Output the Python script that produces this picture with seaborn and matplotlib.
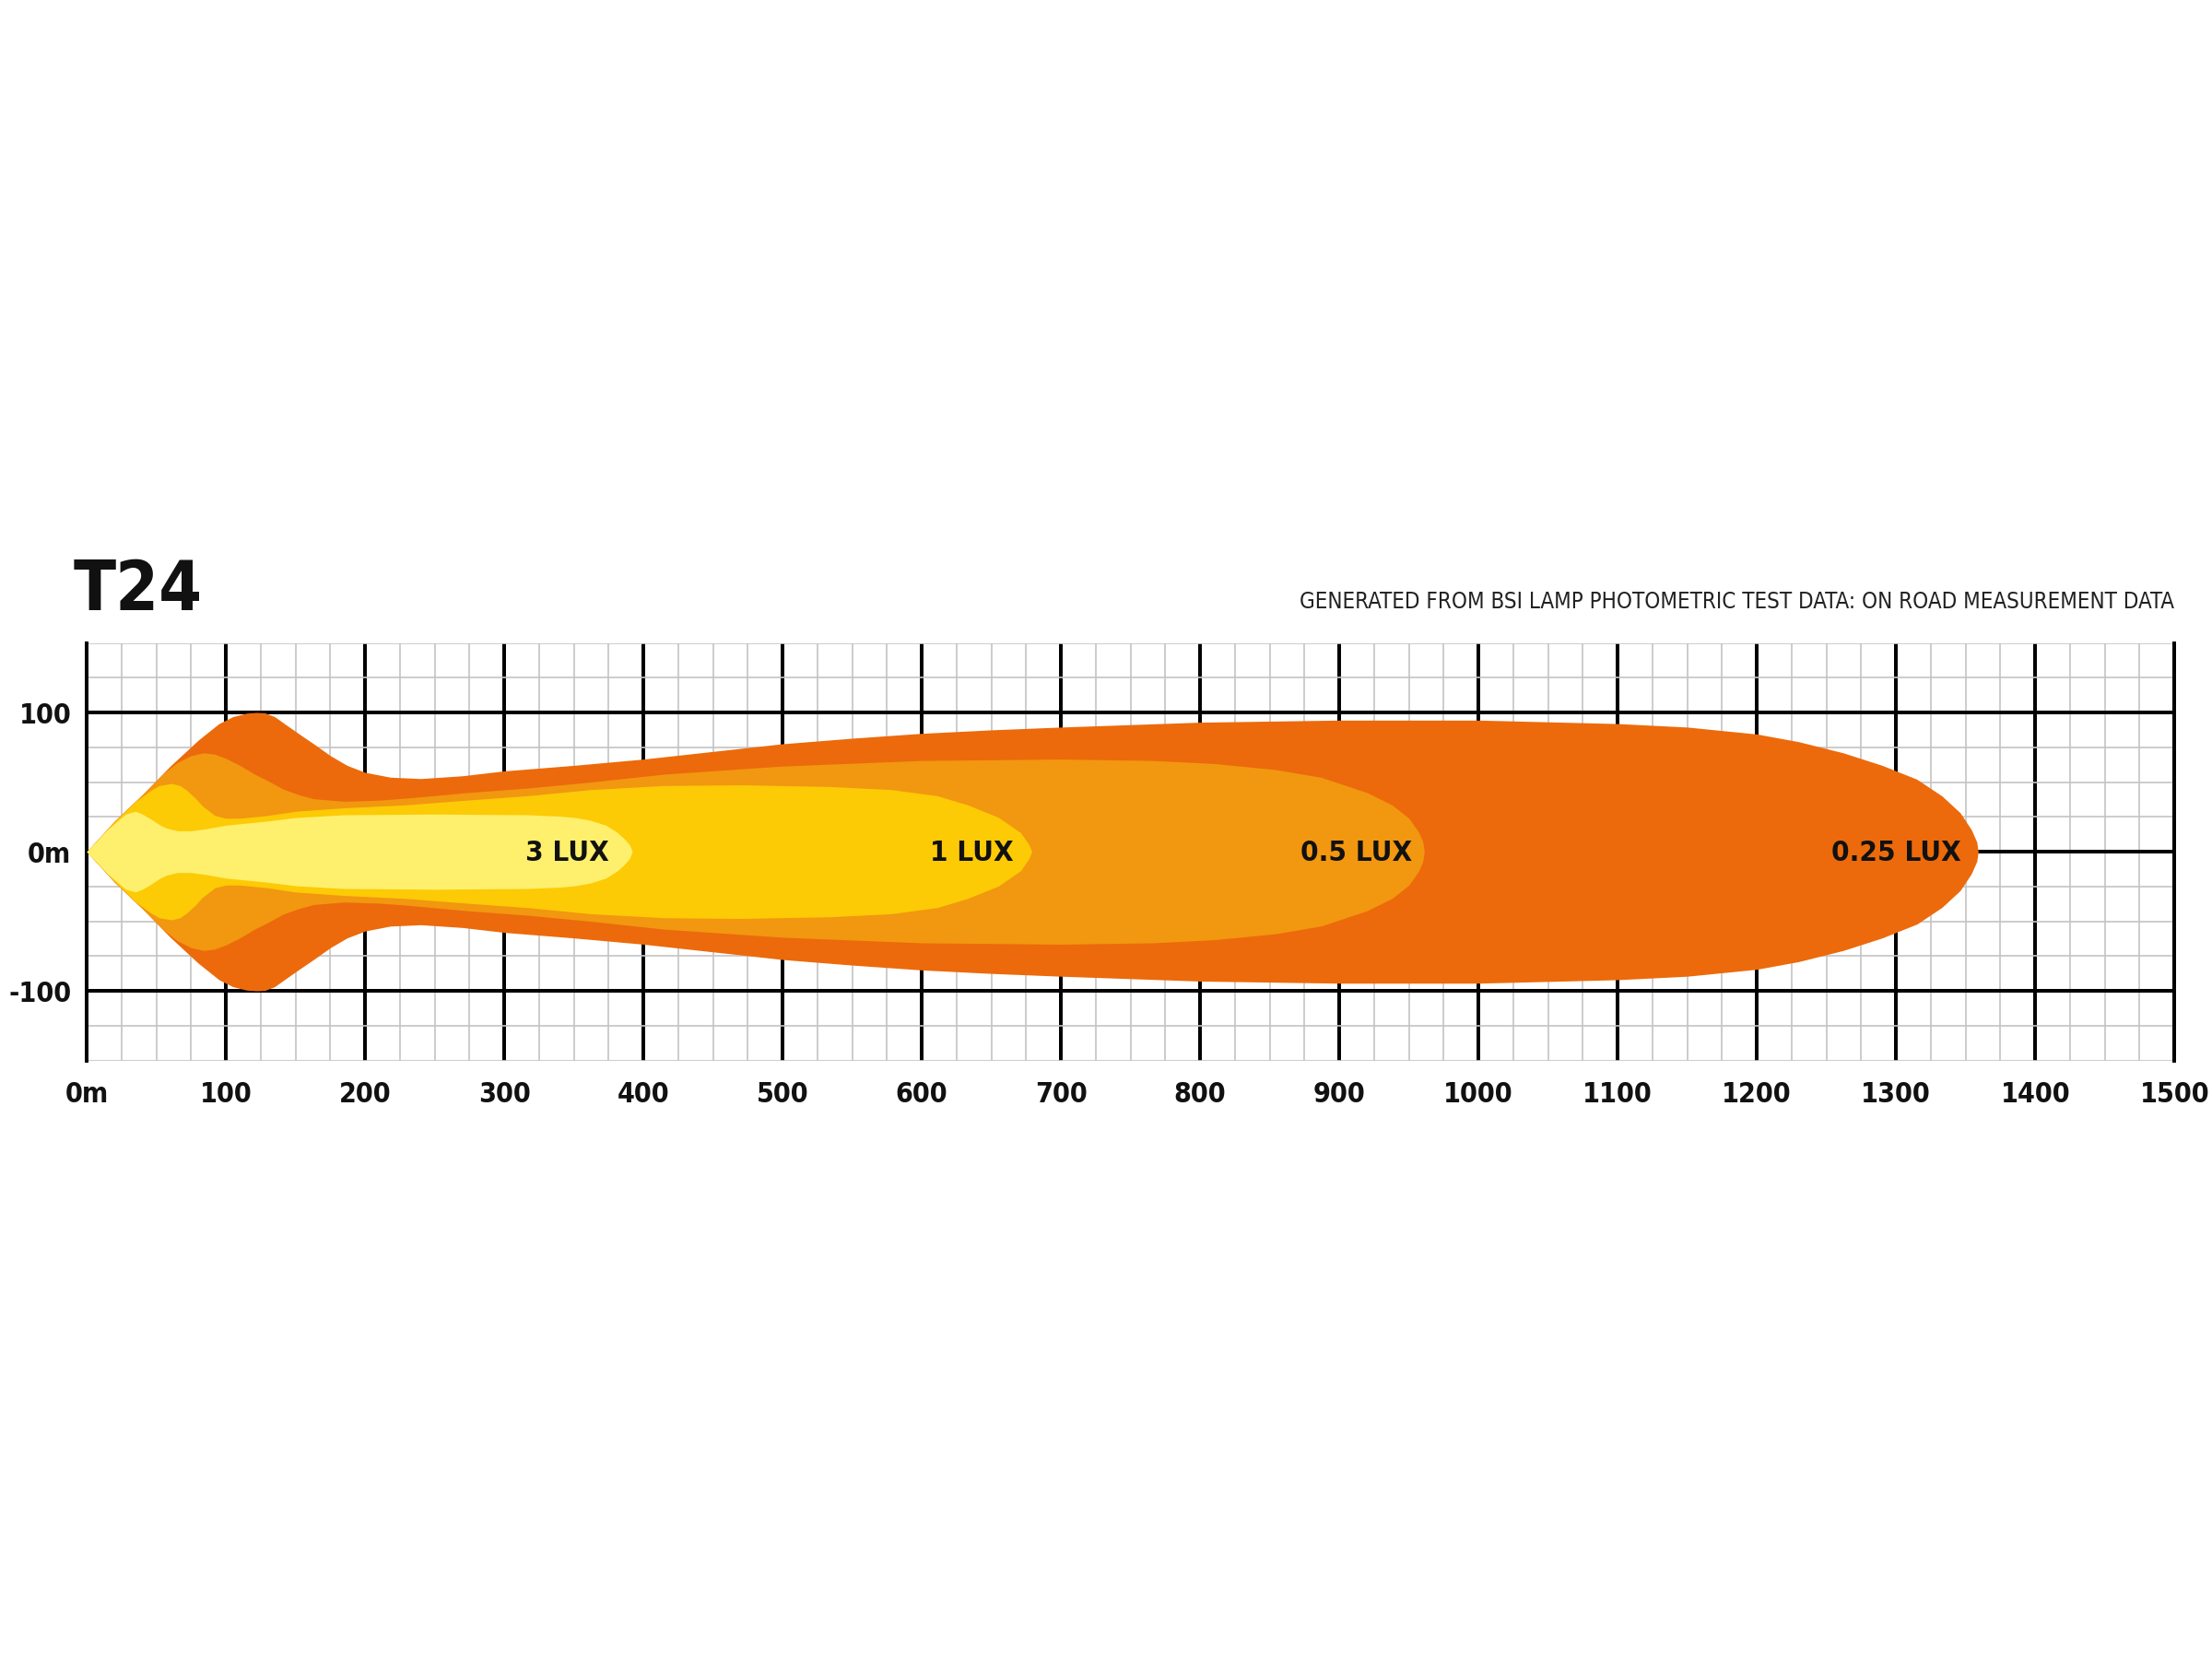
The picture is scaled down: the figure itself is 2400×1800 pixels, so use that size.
import matplotlib
matplotlib.use("Agg")
import matplotlib.pyplot as plt
from matplotlib.ticker import MultipleLocator, FixedLocator
import seaborn as sns
import numpy as np

# beam pattern contours, half-width (m) at each distance (m)
lux025_x = [0, 20, 40, 60, 80, 95, 105, 115, 122, 128, 135, 142, 152, 163, 175, 187, 200, 218,
            240, 270, 300, 350, 400, 450, 500, 550, 600, 650, 700, 800, 900, 1000, 1100, 1150,
            1200, 1230, 1262, 1290, 1315, 1333, 1346, 1354, 1358, 1359]
lux025_h = [0, 22, 41, 61.5, 80, 92, 97, 99.5, 100, 99.7, 97, 92, 85, 77.5, 69, 62, 57, 53.5,
            52.5, 54.5, 58, 62, 66.5, 72, 77.5, 81.5, 85, 87.5, 89.5, 93, 94.5, 94.5, 92, 89.5,
            84.5, 79, 71, 62, 52, 40, 28, 16, 7, 0]

lux05_x = [0, 20, 40, 55, 65, 75, 84, 92, 100, 110, 120, 130, 141, 152, 163, 185, 210, 229,
           273, 317, 362, 415, 500, 600, 700, 766, 810, 854, 887, 920, 938, 950, 957, 960, 961]
lux05_h = [0, 22, 41, 56, 64, 69, 71, 70, 67, 62, 56, 51, 45, 41, 38, 36.2, 37, 38.4,
           42.4, 45.7, 50, 55.7, 61.5, 65.5, 66.5, 65.5, 63.3, 59, 53.4, 42.4, 33.5, 24, 14, 7, 0]

lux1_x = [0, 20, 35, 46, 52, 61, 67, 72, 78, 83, 92, 100, 110, 130, 150, 185, 229, 273, 317,
          362, 415, 470, 534, 578, 611, 633, 655, 671, 677, 679]
lux1_h = [0, 21.5, 36, 44, 47.5, 49, 47.5, 44, 38.5, 33, 26, 24, 24, 26, 29, 31.5, 33.6, 37, 40.2,
          44.6, 47.5, 48, 46.8, 44.6, 40.2, 33.6, 24.7, 13.7, 5, 0]

lux3_x = [0, 15, 28, 35, 40, 46, 52, 57, 65, 75, 86, 100, 130, 150, 185, 250, 317, 340, 351,
          362, 373, 381, 386, 390, 392]
lux3_h = [0, 16, 27, 29, 27, 23.5, 19.5, 17, 15, 15, 16.5, 19, 22, 24.5, 26.5, 27, 26.5, 25.5, 24.5,
          22.5, 19, 14, 9.5, 5, 0]

levels = ["0.25 LUX", "0.5 LUX", "1 LUX", "3 LUX"]
level_colors = ["#EC6A0B", "#F29710", "#FDCA06", "#FEF06C"]
label_x = [1300, 912, 636, 345]

x_ticks = list(range(0, 1501, 100))
x_labels = ["0m"] + [str(v) for v in x_ticks[1:]]
y_ticks = [-100, 0, 100]
y_labels = ["-100", "0m", "100"]

sns.set_theme(style="white")
plt.rcParams["font.family"] = ["DejaVu Sans"]
plt.rcParams["font.stretch"] = "condensed"

fig = plt.figure(figsize=(16, 12), dpi=150)
fig.patch.set_facecolor("white")
ax = fig.add_axes([0.0392, 0.3608, 0.9438, 0.2517])
ax.set_xlim(0, 1500)
ax.set_ylim(-150, 150)

shapes = [(lux025_x, lux025_h), (lux05_x, lux05_h), (lux1_x, lux1_h), (lux3_x, lux3_h)]
for (xs, hs), col in zip(shapes, level_colors):
    xs = np.array(xs, dtype=float)
    hs = np.array(hs, dtype=float)
    ax.fill_between(xs, -hs, hs, color=col, linewidth=0, zorder=3)

for name, lx in zip(levels, label_x):
    ax.text(lx, -1, name, ha="center", va="center", fontsize=15, fontweight="bold",
            color="#111111", zorder=5, fontstretch="condensed")

# grid: light minor every 25 m, black majors
ax.xaxis.set_major_locator(FixedLocator(x_ticks))
ax.yaxis.set_major_locator(FixedLocator(y_ticks))
ax.xaxis.set_minor_locator(MultipleLocator(25))
ax.yaxis.set_minor_locator(MultipleLocator(25))
ax.set_xticklabels(x_labels)
ax.set_yticklabels(y_labels)
ax.grid(which="minor", color="#c4c4c4", linewidth=0.8, zorder=1)
ax.grid(which="major", color="#000000", linewidth=1.9, zorder=2)
ax.set_axisbelow(True)
ax.tick_params(which="both", length=0)
ax.tick_params(axis="x", pad=11, labelsize=14.5)
ax.tick_params(axis="y", pad=8, labelsize=14.5)
for lab in ax.get_xticklabels() + ax.get_yticklabels():
    lab.set_fontweight("bold")
    lab.set_fontstretch("condensed")
    lab.set_color("#111111")
for side in ["top", "bottom"]:
    ax.spines[side].set_visible(False)
for side in ["left", "right"]:
    ax.spines[side].set_color("black")
    ax.spines[side].set_linewidth(1.9)

fig.text(0.033, 0.632, "T24", fontsize=36, fontweight="bold", color="#111111",
         ha="left", va="baseline", fontstretch="condensed")
fig.text(0.983, 0.6335, "GENERATED FROM BSI LAMP PHOTOMETRIC TEST DATA: ON ROAD MEASUREMENT DATA",
         fontsize=11.5, color="#222222", ha="right", va="baseline", fontstretch="condensed")

fig.savefig("out.png", dpi=150, facecolor="white")
